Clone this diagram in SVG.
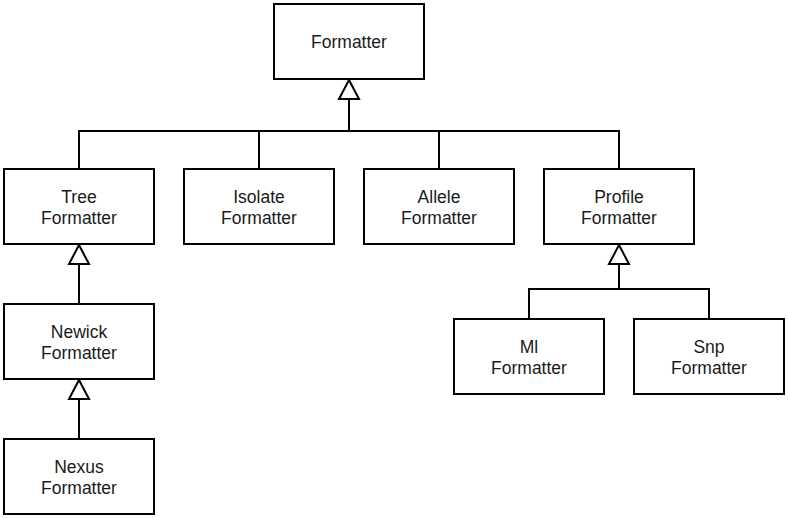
<svg xmlns="http://www.w3.org/2000/svg" width="788" height="518" viewBox="0 0 788 518">
<style>
.box{fill:#fff;stroke:#000;stroke-width:2}
.t{font-family:"Liberation Sans",Arial,sans-serif;font-size:17.5px;fill:#1a1a1a;text-anchor:middle}
.c{fill:none;stroke:#000;stroke-width:2}
.tri{fill:#fff;stroke:#000;stroke-width:2}
</style>
<rect width="788" height="518" fill="#fff"/>
<g id="connectors">
<path class="c" d="M349 99 V131 M79 169 V131 H619 V169 M259 131 V169 M439 131 V169"/>
<polygon class="tri" points="349,80 339,99 359,99"/>
<path class="c" d="M79 264 V304"/>
<polygon class="tri" points="79,245 69,264 89,264"/>
<path class="c" d="M79 399 V439"/>
<polygon class="tri" points="79,380 69,399 89,399"/>
<path class="c" d="M619 264 V289 M529 319 V289 H709 V319"/>
<polygon class="tri" points="619,245 609,264 629,264"/>
</g>
<g id="formatter"><rect class="box" x="274" y="4" width="150" height="75"/><text class="t" x="349" y="48">Formatter</text></g>
<g id="tree"><rect class="box" x="4" y="169" width="150" height="75"/><text class="t" x="79" y="202.5">Tree</text><text class="t" x="79" y="223.5">Formatter</text></g>
<g id="isolate"><rect class="box" x="184" y="169" width="150" height="75"/><text class="t" x="259" y="202.5">Isolate</text><text class="t" x="259" y="223.5">Formatter</text></g>
<g id="allele"><rect class="box" x="364" y="169" width="150" height="75"/><text class="t" x="439" y="202.5">Allele</text><text class="t" x="439" y="223.5">Formatter</text></g>
<g id="profile"><rect class="box" x="544" y="169" width="150" height="75"/><text class="t" x="619" y="202.5">Profile</text><text class="t" x="619" y="223.5">Formatter</text></g>
<g id="newick"><rect class="box" x="4" y="304" width="150" height="75"/><text class="t" x="79" y="337.5">Newick</text><text class="t" x="79" y="358.5">Formatter</text></g>
<g id="nexus"><rect class="box" x="4" y="439" width="150" height="75"/><text class="t" x="79" y="472.5">Nexus</text><text class="t" x="79" y="493.5">Formatter</text></g>
<g id="ml"><rect class="box" x="454" y="319" width="150" height="75"/><text class="t" x="529" y="352.5">Ml</text><text class="t" x="529" y="373.5">Formatter</text></g>
<g id="snp"><rect class="box" x="634" y="319" width="150" height="75"/><text class="t" x="709" y="352.5">Snp</text><text class="t" x="709" y="373.5">Formatter</text></g>
</svg>
